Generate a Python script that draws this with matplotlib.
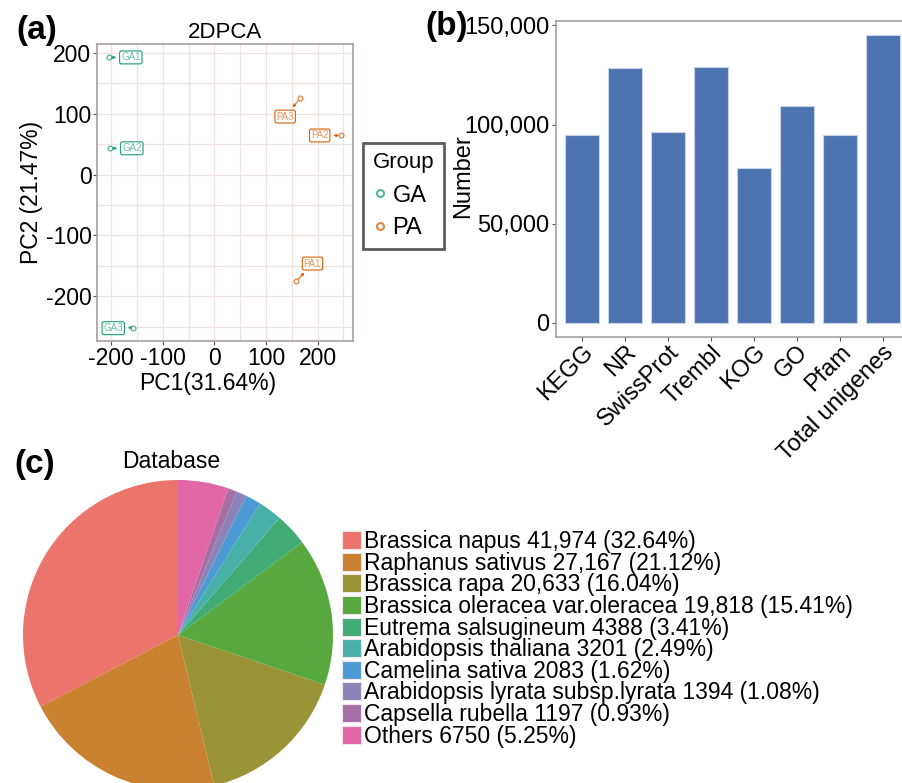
import matplotlib
matplotlib.use("Agg")
import matplotlib.pyplot as plt
import matplotlib.patches as mpatches
from matplotlib.ticker import FuncFormatter, MultipleLocator
from matplotlib.lines import Line2D

plt.rcParams["font.family"] = ["Liberation Sans", "DejaVu Sans"]
plt.rcParams["axes.unicode_minus"] = False

# --- PCA scores (panel a)
samples = ["GA1", "GA2", "GA3", "PA1", "PA2", "PA3"]
groups = ["GA", "GA", "GA", "PA", "PA", "PA"]
pc1 = [-205, -203, -157, 159, 246, 166]
pc2 = [192, 43, -251, -175, 64, 125]
label_x = [-162, -160, -196, 190, 204, 137]
label_y = [192, 43, -252, -146, 64, 95]
group_colors = {"GA": "#1B9E77", "PA": "#D95F02"}

# --- annotation counts (panel b)
databases = ["KEGG", "NR", "SwissProt", "Trembl", "KOG", "GO", "Pfam", "Total unigenes"]
counts = [94850, 128605, 96400, 129150, 78200, 109300, 94500, 145000]

# --- NR species distribution (panel c)
species = ["Brassica napus", "Raphanus sativus", "Brassica rapa",
           "Brassica oleracea var.oleracea", "Eutrema salsugineum",
           "Arabidopsis thaliana", "Camelina sativa",
           "Arabidopsis lyrata subsp.lyrata", "Capsella rubella", "Others"]
species_counts = [41974, 27167, 20633, 19818, 4388, 3201, 2083, 1394, 1197, 6750]
species_pct = ["32.64", "21.12", "16.04", "15.41", "3.41", "2.49", "1.62", "1.08", "0.93", "5.25"]
species_count_labels = ["41,974", "27,167", "20,633", "19,818", "4388", "3201",
                        "2083", "1394", "1197", "6750"]
species_colors = ["#EB756C", "#C9822F", "#9B9436", "#57A83E", "#40AB74",
                  "#47B1A9", "#4C9BD4", "#8A84B9", "#A66FA5", "#E066A5"]

W, H = 902, 783
fig = plt.figure(figsize=(W / 100, H / 100), dpi=100)


def fx(px):
    return px / W


def fy(py):
    return 1 - py / H


frame_col = "#A8A09C"

# ---------------- (a) 2DPCA ----------------
ax = fig.add_axes([fx(97), fy(341), fx(256), 297 / H])
ax.set_xlim(-227.5, 268.5)
ax.set_ylim(-273, 214)
ax.xaxis.set_major_locator(MultipleLocator(100))
ax.yaxis.set_major_locator(MultipleLocator(100))
ax.xaxis.set_minor_locator(MultipleLocator(50))
ax.yaxis.set_minor_locator(MultipleLocator(50))
ax.grid(True, which="both", color="#EDE3E3", lw=0.9)
ax.set_axisbelow(True)
for sp in ax.spines.values():
    sp.set_color(frame_col)
    sp.set_linewidth(1.2)
ax.tick_params(which="major", length=3, color="#555555", labelsize=16.5, pad=1)
ax.tick_params(which="minor", length=0)

for s, g, x, y, lx, ly in zip(samples, groups, pc1, pc2, label_x, label_y):
    c = group_colors[g]
    ax.scatter(x, y, s=12, facecolors="white", edgecolors=c, linewidths=0.9,
               alpha=0.75, zorder=3)
    ax.annotate(s, xy=(x, y), xytext=(lx, ly), ha="center", va="center",
                fontsize=7, color=c, alpha=0.65,
                bbox=dict(boxstyle="round,pad=0.15,rounding_size=0.2",
                          fc="white", ec=c, lw=0.8),
                arrowprops=dict(arrowstyle="<|-,head_length=0.25,head_width=0.12",
                                color=c, lw=0.8, shrinkB=2, alpha=0.85),
                zorder=4)

ax.set_title("2DPCA", fontsize=16, pad=4)
ax.set_xlabel("PC1(31.64%)", fontsize=16.5)
ax.xaxis.set_label_coords(0.434, -0.105)
ax.set_ylabel("PC2 (21.47%)", fontsize=16.5, labelpad=2)

handles = [Line2D([], [], ls="", marker="o", ms=5, mfc="white", mew=1.5,
                  mec=group_colors[g], alpha=0.75, label=g) for g in ["GA", "PA"]]
leg = ax.legend(handles=handles, title="Group", loc="upper left",
                bbox_to_anchor=(fx(363), fy(143)), bbox_transform=fig.transFigure,
                fontsize=17, title_fontsize=16, fancybox=False,
                handlelength=0.6, handletextpad=0.25, borderpad=0.4,
                labelspacing=0.45, borderaxespad=0)
leg._legend_box.align = "left"
leg._legend_box.sep = 8
leg.get_frame().set_edgecolor("#333333")
leg.get_frame().set_linewidth(2)

fig.text(fx(37), fy(30), "(a)", fontsize=24, fontweight="bold", ha="center", va="center")

# ---------------- (b) annotation counts ----------------
bx = fig.add_axes([fx(556), fy(337), 352.6 / W, 316 / H])
pos = range(len(databases))
bx.bar(pos, counts, width=0.8, color="#4D74B1", edgecolor="#C8D4EC", linewidth=0.8)
bx.set_xlim(-0.6, len(databases) - 0.4)
bx.set_ylim(-0.05 * max(counts), 1.05 * max(counts))
bx.set_yticks([0, 50000, 100000, 150000])
bx.yaxis.set_major_formatter(FuncFormatter(lambda v, p: f"{int(v):,}"))
bx.set_xticks(list(pos))
bx.set_xticklabels(databases, rotation=45, ha="right", va="top",
                   rotation_mode="anchor")
for sp in bx.spines.values():
    sp.set_color(frame_col)
    sp.set_linewidth(1.2)
bx.tick_params(length=3, color="#555555", labelsize=17, pad=2)
bx.tick_params(axis="x", pad=0)
bx.set_ylabel("Number", fontsize=17)
bx.yaxis.set_label_coords(-0.232, 0.51)

fig.text(fx(447), fy(27), "(b)", fontsize=24, fontweight="bold", ha="center", va="center")

# ---------------- (c) species distribution pie ----------------
cx = fig.add_axes([fx(23), fy(790), 310 / W, 310 / H])
wedges, _ = cx.pie(species_counts, colors=species_colors, startangle=90,
                   counterclock=True, wedgeprops=dict(linewidth=0))
cx.set_xlim(-1, 1)
cx.set_ylim(-1, 1)
cx.set_aspect("equal")
cx.axis("off")

legend_labels = [f"{n} {c} ({p}%)" for n, c, p in
                 zip(species, species_count_labels, species_pct)]
leg_handles = [mpatches.Patch(facecolor=c, edgecolor="#F4E4EA", linewidth=0.8)
               for c in species_colors]
fig.legend(leg_handles, legend_labels, loc="upper left",
           bbox_to_anchor=(fx(342), fy(530)), frameon=False, fontsize=16.5,
           handlelength=0.83, handleheight=0.83, handletextpad=0.15,
           labelspacing=-0.06, borderpad=0, borderaxespad=0)

fig.text(fx(171), fy(461), "Database", fontsize=16.5, ha="center", va="center")
fig.text(fx(35), fy(465), "(c)", fontsize=24, fontweight="bold", ha="center", va="center")

fig.savefig("out.png", dpi=100)
